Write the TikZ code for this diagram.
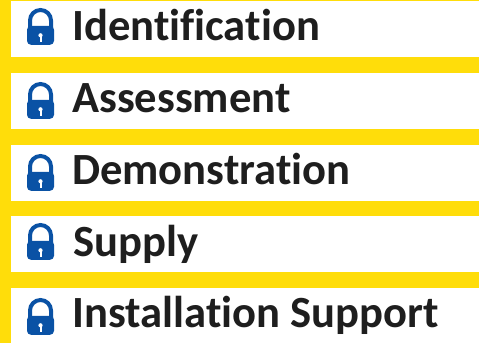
\documentclass[tikz,border=0pt]{standalone}
\usepackage{fontspec}
\setmainfont{Carlito}[Ligatures=NoCommon]
\definecolor{barYellow}{HTML}{FFDD0A}
\definecolor{lockBlue}{HTML}{0A52A5}
\definecolor{labelInk}{HTML}{1E1E1E}
\newcommand{\padlock}[3]{%
    \draw[lockBlue,line width=4pt] (#1-10.5,#2+12) -- (#1-10.5,#2+24.5) arc (180:0:10.5) -- (#1+10.5,#2+12);
    \node[lockbody] (#3) at (#1,#2) {};
    \fill[white] (#1,#2+9.7) circle (2.1);
    \fill[white] (#1-1,#2+3) rectangle (#1+1,#2+9.7);
}
\begin{document}
\begin{tikzpicture}[x=1pt,y=1pt]
    %
    % `rowbox' is used for the white rows, `rowlabel' for their text.
    % `lockbody' is the lower part of each padlock.
    \tikzstyle{rowbox} = [fill=white,minimum width=468pt,inner sep=0pt,outer sep=0pt,anchor=south west]
    \tikzstyle{rowlabel} = [font=\fontsize{44.6}{45}\selectfont\bfseries,text=labelInk,inner sep=0pt,anchor=base west]
    \tikzstyle{lockbody} = [fill=lockBlue,anchor=south,minimum width=27pt,minimum height=19pt,inner sep=0pt,rounded corners=4pt]
    %
    % Background
    \fill[barYellow] (0,0) rectangle (479,343);
    %
    % Rows
    \node[rowbox,minimum height=56pt] (row1) at (11,286) {};
    \node[rowbox,minimum height=56pt] (row2) at (11,214) {};
    \node[rowbox,minimum height=56pt] (row3) at (11,142) {};
    \node[rowbox,minimum height=56pt] (row4) at (11,71) {};
    \node[rowbox,minimum height=55pt] (row5) at (11,0) {};
    %
    % Padlocks
    \padlock{40.5}{298}{lock1}
    \padlock{40.5}{224}{lock2}
    \padlock{40.5}{152}{lock3}
    \padlock{40.5}{83}{lock4}
    \padlock{40.5}{8}{lock5}
    %
    % Labels
    \node[rowlabel] (label1) at (72,302) {Identification};
    \node[rowlabel] (label2) at (72,230) {Assessment};
    \node[rowlabel] (label3) at (72,158) {Demonstration};
    \node[rowlabel] (label4) at (73,87) {Supply};
    \node[rowlabel] (label5) at (72,16) {Installation Support};
    %
\end{tikzpicture}
\end{document}
